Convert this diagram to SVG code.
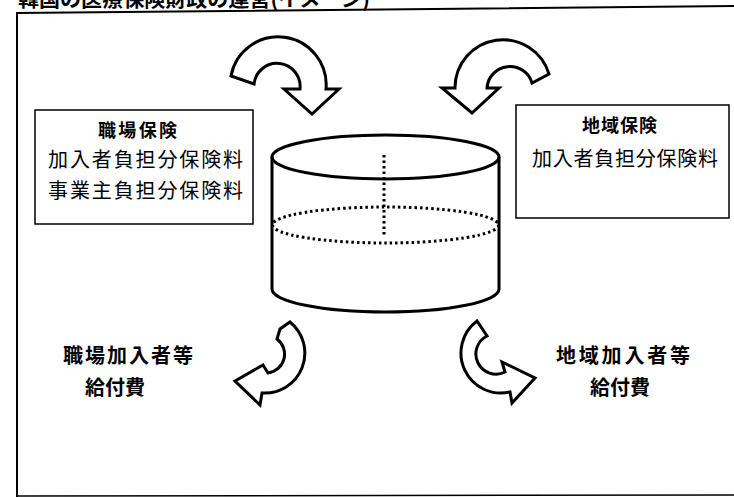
<svg xmlns="http://www.w3.org/2000/svg" width="734" height="497" viewBox="0 0 734 497">
<style>
.t{font-family:"Noto Sans CJK JP","Noto Sans CJK SC",sans-serif;fill:#000}
.b{font-weight:bold}
.box{fill:#fff;stroke:#000;stroke-width:1.5}
.arr{fill:#fff;stroke:#000;stroke-width:3;stroke-linejoin:miter}
.cyl{fill:none;stroke:#000;stroke-width:3}
.dot{fill:none;stroke:#000;stroke-width:3;stroke-dasharray:2.5 3}
</style>
<rect width="734" height="497" fill="#fff"/>
<text class="t b" x="18" y="7" font-size="20" textLength="352" lengthAdjust="spacingAndGlyphs">韓国の医療保険財政の運営(イメージ)</text>
<g id="frame">
<path d="M734 6 L17 13 L17 497" fill="none" stroke="#000" stroke-width="2"/>
<path d="M17 496 L734 495" fill="none" stroke="#000" stroke-width="1.5"/>
</g>
<g id="workplace-insurance">
<rect class="box" x="35" y="110" width="218" height="114"/>
<text class="t b" x="98" y="137" font-size="18" textLength="79" lengthAdjust="spacing">職場保険</text>
<text class="t" x="48" y="167" font-size="20" textLength="195" lengthAdjust="spacing">加入者負担分保険料</text>
<text class="t" x="48" y="198" font-size="20" textLength="195" lengthAdjust="spacing">事業主負担分保険料</text>
</g>
<g id="regional-insurance">
<rect class="box" x="516" y="105" width="213" height="113"/>
<text class="t b" x="582" y="132" font-size="18" textLength="75" lengthAdjust="spacing">地域保険</text>
<text class="t" x="532" y="166" font-size="20" textLength="186" lengthAdjust="spacing">加入者負担分保険料</text>
</g>
<g id="fund">
<path class="cyl" d="M272 157 L272 289 A113.5 23 0 0 0 499 289 L499 157"/>
<ellipse class="cyl" cx="385.5" cy="157" rx="113.5" ry="22"/>
<ellipse class="dot" cx="385.5" cy="225" rx="113" ry="18"/>
<line class="dot" x1="384" y1="155" x2="384" y2="237"/>
</g>
<g id="workplace-benefits">
<text class="t b" x="63" y="363" font-size="20" textLength="130" lengthAdjust="spacing">職場加入者等</text>
<text class="t b" x="85" y="395" font-size="20" textLength="60" lengthAdjust="spacing">給付費</text>
</g>
<g id="regional-benefits">
<text class="t b" x="556" y="363" font-size="20" textLength="134" lengthAdjust="spacing">地域加入者等</text>
<text class="t b" x="590" y="395" font-size="20" textLength="60" lengthAdjust="spacing">給付費</text>
</g>
<g id="connectors">
<path class="arr" d="M231 76 A48 48 0 0 1 326 89 L339 89 L312 114 L284 89 L300 89 A23 23 0 0 0 254 84 Z"/>
<path class="arr" d="M549 74 A48 48 0 0 0 455 88 L442 88 L472 113 L499 88 L487 88 A23 23 0 0 1 532 83 Z"/>
<path class="arr" d="M290 322 A40 40 0 0 1 262 393 L260 405 L235 381 L263 365 L268 373 A19 19 0 0 0 277 339 L280 329 Z"/>
<path class="arr" d="M477 321 A40 40 0 0 0 510 392 L512 403 L535 378 L502 362 L505 372 A19 19 0 0 1 487 336 Z"/>
</g>
</svg>
